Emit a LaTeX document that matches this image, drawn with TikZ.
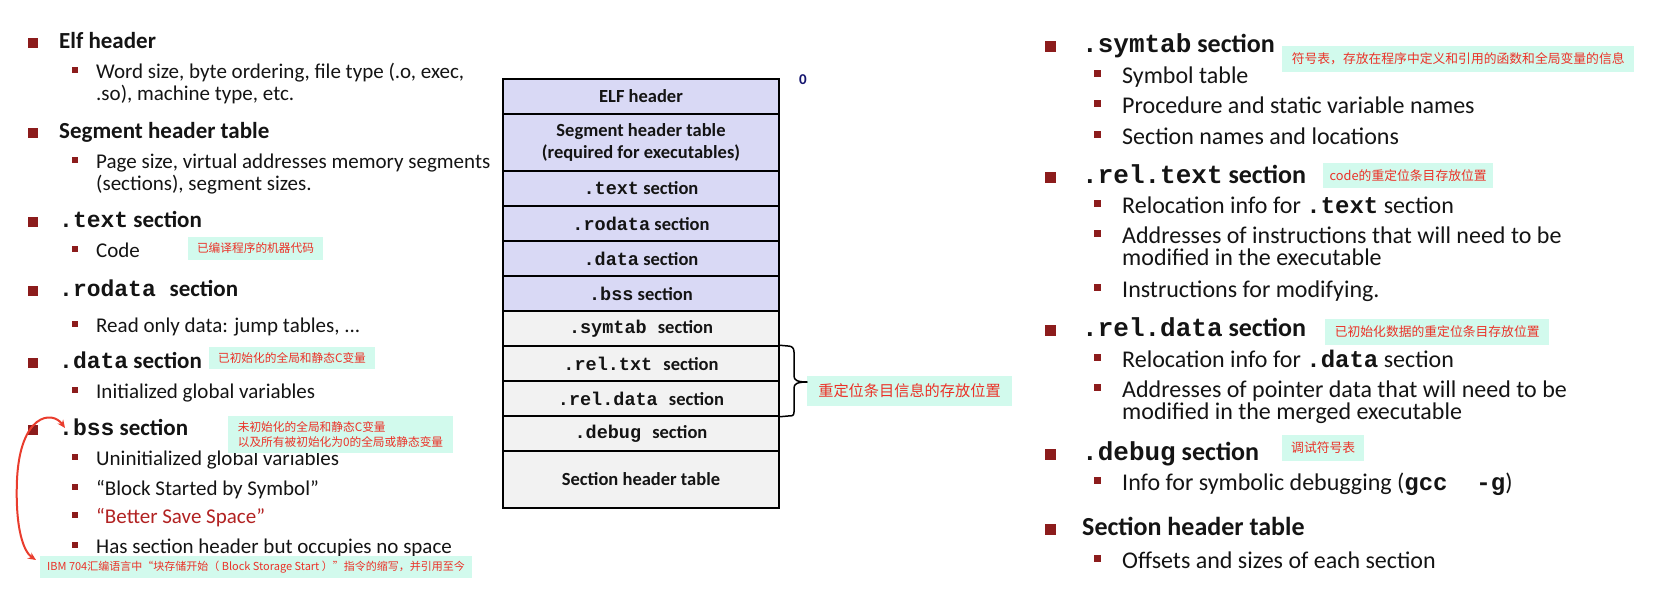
\documentclass[tikz,border=0pt]{standalone}
\usepackage{fontspec}
\setmainfont{Carlito}
\setmonofont{Liberation Mono}
\newfontfamily\cjk{Noto Sans CJK SC}
\usetikzlibrary{arrows.meta}
\definecolor{bulred}{RGB}{140,28,28}
\definecolor{mint}{RGB}{210,250,237}
\definecolor{lblred}{RGB}{235,50,40}
\definecolor{lav}{RGB}{217,217,245}
\definecolor{rowgray}{RGB}{242,242,242}
\definecolor{navy}{RGB}{20,20,110}
\definecolor{darkred}{RGB}{178,34,34}
\definecolor{arrred}{RGB}{233,60,45}
\definecolor{ink}{RGB}{20,20,20}
\newcommand{\mono}[1]{{\ttfamily\bfseries #1}}
\tikzset{
  lhead/.style={anchor=base west, inner sep=0, text=ink, font=\fontsize{23}{27}\selectfont\bfseries},
  lsub/.style={anchor=base west, inner sep=0, text=ink, font=\fontsize{21}{22}\selectfont},
  rhead/.style={anchor=base west, inner sep=0, text=ink, font=\fontsize{26}{30}\selectfont\bfseries},
  rsub/.style={anchor=base west, inner sep=0, text=ink, font=\fontsize{24}{26}\selectfont},
  bigbul/.style={fill=bulred, inner sep=0, minimum size=10, anchor=south west},
  smallbul/.style={fill=bulred, inner sep=0, minimum size=6, anchor=south west},
  rbigbul/.style={bigbul, minimum size=11},
  rsmallbul/.style={smallbul, minimum size=7},
  lbl/.style={fill=mint, text=lblred, inner sep=0, font=\cjk\fontsize{11.7}{15}\selectfont},
  rlbl/.style={fill=mint, text=lblred, inner sep=0, anchor=west, font=\cjk\fontsize{12.8}{16}\selectfont},
  row/.style={draw=black, line width=1.5, minimum width=276, inner sep=0, align=center,
              text=ink, font=\fontsize{18.5}{22}\selectfont\bfseries},
  upper/.style={row, fill=lav},
  lower/.style={row, fill=rowgray},
}
\newcommand{\Lhead}[3]{\node[bigbul] (#1b) at (28,#2) {}; \node[lhead] (#1) at (59,#2) {#3};}
\newcommand{\Lsub}[3]{\node[smallbul] (#1b) at (72,#2-5) {}; \node[lsub] (#1) at (96,#2) {#3};}
\newcommand{\Rhead}[3]{\node[rbigbul] (#1b) at (1045,#2) {}; \node[rhead] (#1) at (1082,#2) {#3};}
\newcommand{\Rsub}[3]{\node[rsmallbul] (#1b) at (1094,#2-6) {}; \node[rsub] (#1) at (1122,#2) {#3};}
\begin{document}
\begin{tikzpicture}[x=1pt,y=-1pt]
\fill[white] (0,0) rectangle (1666,616);
\useasboundingbox (0,0) rectangle (1666,616);

% ---------- left column ----------
\Lhead{h1}{48}{Elf header}
\Lsub{s1}{78}{Word size, byte ordering, file type (.o, exec,}
\node[lsub] (s1x) at (96,100) {.so), machine type, etc.};
\Lhead{h2}{138}{Segment header table}
\Lsub{s2}{168}{Page size, virtual addresses memory segments}
\node[lsub] (s2x) at (96,190) {(sections), segment sizes.};
\Lhead{h3}{227}{\mono{.text} section}
\Lsub{s3}{257}{Code}
\Lhead{h4}{296}{\mono{.rodata\ }section}
\Lsub{s4}{332}{Read only data: jump tables, ...}
\Lhead{h5}{368}{\mono{.data} section}
\Lsub{s5}{398}{Initialized global variables}
\Lhead{h6}{435}{\mono{.bss} section}
\Lsub{s6}{465}{Uninitialized global variables}
\Lsub{s7}{495}{“Block Started by Symbol”}
\Lsub{s8}{523}{\textcolor{darkred}{“Better Save Space”}}
\Lsub{s9}{553}{Has section header but occupies no space}

% ---------- table ----------
\node[upper, minimum height=35] (elf) at (641,96.5) {ELF header};
\node[upper, minimum height=57] (seg) at (641,142.5) {Segment header table\\(required for executables)};
\node[upper, minimum height=35] (text) at (641,188.5) {\mono{.text} section};
\node[upper, minimum height=35] (rodata) at (641,223.5) {\mono{.rodata} section};
\node[upper, minimum height=35] (data) at (641,258.5) {\mono{.data} section};
\node[upper, minimum height=35] (bss) at (641,293.5) {\mono{.bss} section};
\node[lower, minimum height=35] (symtab) at (641,328.5) {\mono{.symtab }section};
\node[lower, minimum height=35] (reltxt) at (641,363.5) {\mono{.rel.txt }section};
\node[lower, minimum height=35] (reldata) at (641,398.5) {\mono{.rel.data }section};
\node[lower, minimum height=35] (debug) at (641,433.5) {\mono{.debug }section};
\node[lower, minimum height=57] (sht) at (641,479.5) {Section header table};
\node[text=navy, inner sep=0, font=\fontsize{15}{15}\selectfont\bfseries] (zero) at (803,80) {0};

% brace
\node[fill=mint, text=lblred, inner sep=0, minimum width=205, minimum height=30,
      font=\cjk\fontsize{15.2}{18}\selectfont] (relocL) at (909.5,391) {重定位条目信息的存放位置};
\coordinate (btop) at (reltxt.north east);
\coordinate (bbot) at (reldata.south east);
\coordinate (btip) at (807,382);
\draw[line width=1.5, line cap=round, line join=round]
  (btop) -- (788,346) .. controls (792,346) and (794,348) .. (794,352) -- (794,376)
  .. controls (794,380) and (797,382) .. (btip)
  .. controls (797,382) and (794,384) .. (794,388) -- (794,412)
  .. controls (794,416) and (792,416) .. (788,416) -- (bbot);

% ---------- right column ----------
\Rhead{r1}{52}{\mono{.symtab} section}
\Rsub{t1}{83}{Symbol table}
\Rsub{t2}{113}{Procedure and static variable names}
\Rsub{t3}{144}{Section names and locations}
\Rhead{r2}{183}{\mono{.rel.text} section}
\Rsub{t4}{213}{Relocation info for \mono{.text} section}
\Rsub{t5}{243}{Addresses of instructions that will need to be}
\node[rsub] (t5x) at (1122,265) {modified in the executable};
\Rsub{t6}{297}{Instructions for modifying.}
\Rhead{r3}{336}{\mono{.rel.data} section}
\Rsub{t7}{367}{Relocation info for \mono{.data} section}
\Rsub{t8}{397}{Addresses of pointer data that will need to be}
\node[rsub] (t8x) at (1122,419) {modified in the merged executable};
\Rhead{r4}{460}{\mono{.debug} section}
\Rsub{t9}{490}{Info for symbolic debugging (\mono{gcc\ \ -g})}
\Rhead{r5}{535}{Section header table}
\Rsub{t10}{568}{Offsets and sizes of each section}

% ---------- labels ----------
\node[lbl, minimum width=135, minimum height=23] (codeL) at (255.5,248.5) {已编译程序的机器代码};
\node[lbl, minimum width=166, minimum height=22] (dataL) at (292,358) {已初始化的全局和静态C变量};
\node[lbl, minimum width=225, minimum height=37, align=left] (bssL) at (340.5,434.5)
  {未初始化的全局和静态C变量\\以及所有被初始化为0的全局或静态变量};
\node[lbl, font=\cjk\fontsize{11}{13}\selectfont, minimum width=432, minimum height=22] (ibmL) at (256,567)
  {IBM 704汇编语言中“块存储开始（ Block Storage Start ）”指令的缩写，并引用至今};
\node[rlbl, minimum width=352, minimum height=26] (symL) at (1282,59) {符号表，存放在程序中定义和引用的函数和全局变量的信息};
\node[rlbl, minimum width=170, minimum height=25] (reltextL) at (1323,175.5) {code的重定位条目存放位置};
\node[rlbl, minimum width=224, minimum height=26] (reldataL) at (1325,332) {已初始化数据的重定位条目存放位置};
\node[rlbl, minimum width=82, minimum height=26] (debugL) at (1282,448) {调试符号表};

% ---------- red arrow ----------
\coordinate (arrTop) at (65,428);
\coordinate (arrBot) at (36,560);
\draw[arrred, line width=2, {Stealth[length=8,width=7]}-{Stealth[length=8,width=7]}]
  (arrTop) .. controls (52,410) and (20,414) .. (17,480)
  .. controls (15,530) and (24,552) .. (arrBot);
\end{tikzpicture}
\end{document}
